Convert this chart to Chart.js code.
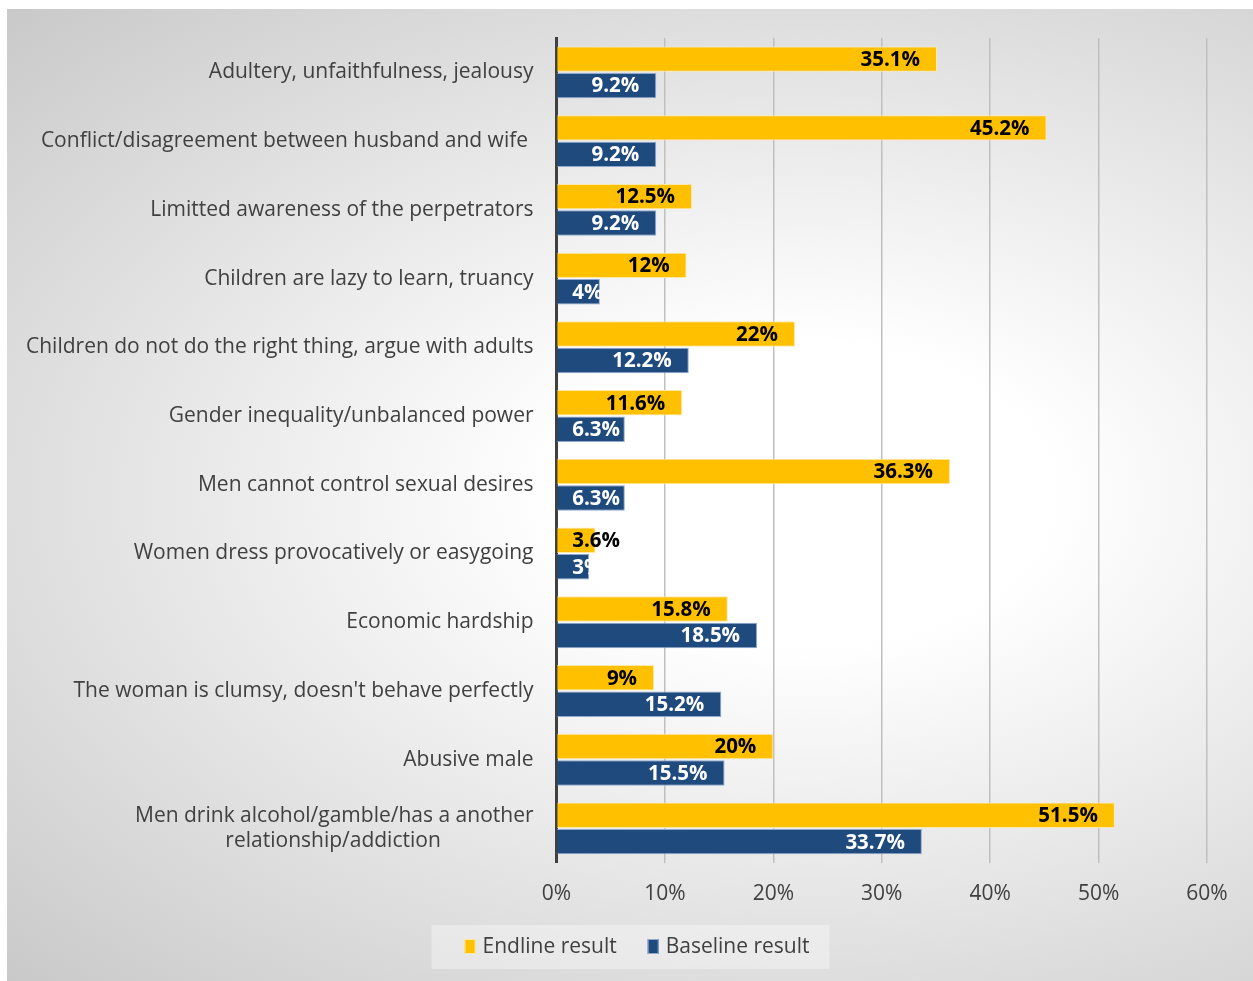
<!DOCTYPE html>
<html>
<head>
<meta charset="utf-8">
<script src="https://cdn.jsdelivr.net/npm/chart.js@4/dist/chart.umd.min.js"></script>
<style>
  html, body { margin: 0; padding: 0; background: #fff; }
  #wrap {
    position: absolute; left: 7px; top: 9px; width: 1246px; height: 972px;
    background: radial-gradient(ellipse farthest-corner at 64% 50%, #ffffff 0%, #ffffff 22%, #c9c9c9 100%);
  }
</style>
</head>
<body>
<div id="wrap"><canvas id="myChart"></canvas></div>
<script>
const categories = [
  'Adultery, unfaithfulness, jealousy',
  'Conflict/disagreement between husband and wife ',
  'Limitted awareness of the perpetrators',
  'Children are lazy to learn, truancy',
  'Children do not do the right thing, argue with adults',
  'Gender inequality/unbalanced power',
  'Men cannot control sexual desires',
  'Women dress provocatively or easygoing',
  'Economic hardship',
  "The woman is clumsy, doesn't behave perfectly",
  'Abusive male',
  ['Men drink alcohol/gamble/has a another', 'relationship/addiction']
];
const endline = [35.1, 45.2, 12.5, 12, 22, 11.6, 36.3, 3.6, 15.8, 9, 20, 51.5];
const baseline = [9.2, 9.2, 9.2, 4, 12.2, 6.3, 6.3, 3, 18.5, 15.2, 15.5, 33.7];
const xTicks = [0, 10, 20, 30, 40, 50, 60];

const FONT = '"Open Sans", sans-serif';
const TEXT = '#404040';

// wrapped labels: pad the shorter lines so the block reads centred
const measurer = document.createElement('canvas').getContext('2d');
measurer.font = '21px ' + FONT;
function centreLines(label) {
  if (!Array.isArray(label)) return label;
  const widest = Math.max(...label.map(s => measurer.measureText(s).width));
  const sp = measurer.measureText(' ').width;
  return label.map(s => s + ' '.repeat(Math.round((widest - measurer.measureText(s).width) / 2 / sp)));
}

// value labels drawn at the inside end of each bar
const barLabels = {
  id: 'barLabels',
  afterDatasetsDraw(chart) {
    const c = chart.ctx;
    c.save();
    c.font = 'bold 20.5px ' + FONT;
    c.textBaseline = 'middle';
    c.textAlign = 'left';
    chart.data.datasets.forEach((ds, di) => {
      chart.getDatasetMeta(di).data.forEach((bar, i) => {
        const txt = ds.data[i] + '%';
        const w = c.measureText(txt).width;
        const x = Math.max(bar.x - 17 - w, bar.base + 15);
        c.save();
        if (di === 1) {
          c.beginPath();
          c.rect(bar.base, bar.y - bar.height / 2, bar.x - bar.base, bar.height);
          c.clip();
        }
        c.fillStyle = di === 0 ? '#000000' : '#ffffff';
        c.fillText(txt, x, bar.y + 1);
        c.restore();
      });
    });
    c.restore();
  }
};

// legend row under the x axis, on a light panel
const bottomLegend = {
  id: 'bottomLegend',
  afterDraw(chart) {
    const c = chart.ctx;
    const sets = chart.data.datasets;
    c.save();
    c.font = '21px ' + FONT;
    const box = 11, gapText = 7, gapItem = 31;
    const widths = sets.map(ds => box + gapText + c.measureText(ds.label).width);
    const total = widths.reduce((a, b) => a + b, 0) + gapItem * (sets.length - 1);
    const yc = chart.height - 35;
    let x = chart.width / 2 + 7 - total / 2;
    c.fillStyle = 'rgba(255,255,255,0.35)';
    c.fillRect(x - 33, yc - 21, total + 53, 44);
    c.textBaseline = 'middle';
    c.textAlign = 'left';
    sets.forEach((ds, i) => {
      c.fillStyle = ds.backgroundColor;
      c.fillRect(x, yc - 7, box, 15);
      c.strokeStyle = ds.borderColor;
      c.lineWidth = 1;
      c.strokeRect(x + 0.5, yc - 6.5, box - 1, 14);
      c.fillStyle = TEXT;
      c.fillText(ds.label, x + box + gapText, yc + 1);
      x += widths[i] + gapItem;
    });
    c.restore();
  }
};

const ctx = document.getElementById('myChart');

const data = {
  labels: categories.map(centreLines),
  datasets: [
    {
      label: 'Endline result',
      data: endline,
      backgroundColor: '#ffc000',
      borderColor: '#ffe9a8',
      borderWidth: 1,
      borderSkipped: 'start'
    },
    {
      label: 'Baseline result',
      data: baseline,
      backgroundColor: '#1f4a7d',
      borderColor: '#8fa9cf',
      borderWidth: 1,
      borderSkipped: 'start'
    }
  ]
};

const config = {
  type: 'bar',
  data: data,
  options: {
    indexAxis: 'y',
    responsive: true,
    maintainAspectRatio: false,
    animation: false,
    layout: { padding: { top: 29, right: 46, bottom: 55, left: 4 } },
    datasets: { bar: { categoryPercentage: 0.77, barPercentage: 0.96 } },
    scales: {
      x: {
        min: 0, max: 60,
        afterBuildTicks(axis) { axis.ticks = xTicks.map(v => ({ value: v })); },
        ticks: {
          callback: v => v + '%',
          color: TEXT,
          font: { family: FONT, size: 21 },
          padding: 19
        },
        grid: { color: '#bfbfbf', lineWidth: 1.5, drawTicks: false },
        border: { display: false }
      },
      y: {
        afterFit(scale) {
          // the two-line bottom label should not push the plot down
          scale.paddingTop = 0;
          scale.paddingBottom = 0;
        },
        ticks: {
          color: TEXT,
          font: { family: FONT, size: 21 },
          padding: 15
        },
        grid: { display: false },
        border: { display: true, color: '#404040', width: 3 }
      }
    },
    plugins: {
      legend: { display: false },
      tooltip: { enabled: false }
    }
  },
  plugins: [barLabels, bottomLegend]
};

const myChart = new Chart(ctx, config);
</script>
</body>
</html>
